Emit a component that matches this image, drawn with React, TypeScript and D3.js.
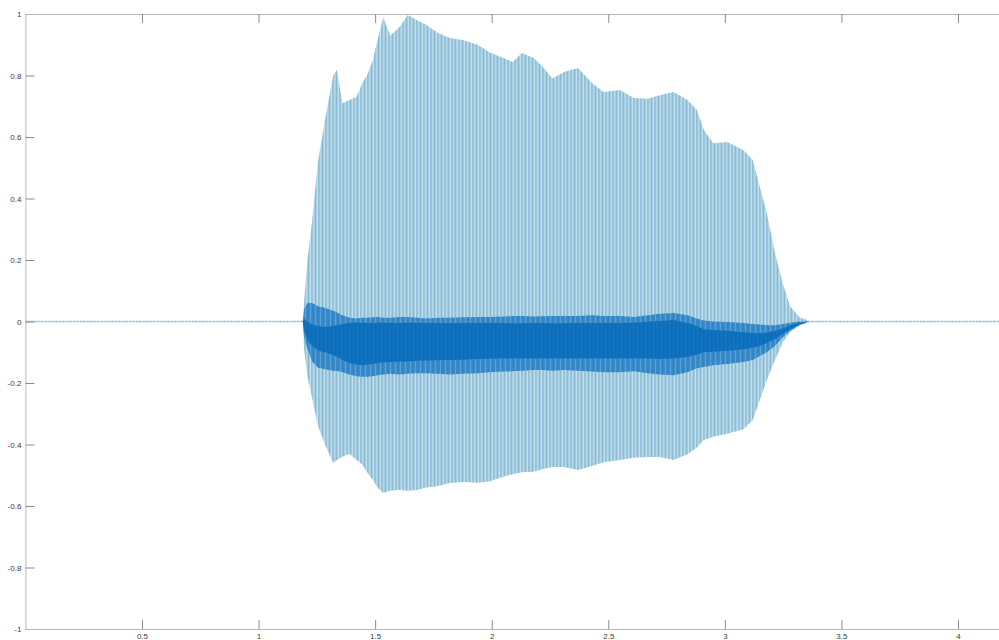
import { useEffect, useRef } from "react";
import * as d3 from "d3";

const WIDTH = 999;
const HEIGHT = 640;
const PLOT = { left: 25.4, top: 14, bottom: 629 };
const X_MAX = 4.2;

const TIMES = [
  0, 1.19, 1.195, 1.21, 1.23, 1.255, 1.285, 1.32, 1.336, 1.36, 1.39, 1.42,
  1.445, 1.465, 1.49, 1.51, 1.535, 1.565, 1.605, 1.64, 1.68, 1.72, 1.77, 1.82,
  1.88, 1.94, 1.99, 2.05, 2.09, 2.13, 2.18, 2.22, 2.26, 2.31, 2.37, 2.43, 2.48,
  2.55, 2.61, 2.67, 2.72, 2.78, 2.84, 2.88, 2.91, 2.95, 3.01, 3.08, 3.12, 3.15,
  3.18, 3.215, 3.25, 3.28, 3.32, 3.36, 4.2,
];

// outer peaks of the signal
const UPPER = [
  0.0025, 0.0025, 0.06, 0.2, 0.33, 0.52, 0.655, 0.8, 0.818, 0.71, 0.72, 0.73,
  0.776, 0.8, 0.85, 0.915, 0.99, 0.93, 0.958, 0.997, 0.98, 0.964, 0.938, 0.922,
  0.915, 0.9, 0.876, 0.857, 0.844, 0.873, 0.857, 0.828, 0.79, 0.811, 0.824,
  0.776, 0.746, 0.753, 0.727, 0.724, 0.736, 0.746, 0.72, 0.688, 0.623, 0.58,
  0.584, 0.557, 0.525, 0.437, 0.353, 0.223, 0.119, 0.05, 0.014, 0.0025, 0.0025,
];
const LOWER = [
  -0.0025, -0.0025, -0.09, -0.18, -0.25, -0.34, -0.4, -0.46, -0.45, -0.44,
  -0.43, -0.45, -0.465, -0.49, -0.515, -0.54, -0.558, -0.55, -0.548, -0.55,
  -0.548, -0.54, -0.535, -0.525, -0.522, -0.524, -0.52, -0.505, -0.497, -0.49,
  -0.489, -0.48, -0.473, -0.473, -0.483, -0.47, -0.458, -0.45, -0.443, -0.441,
  -0.441, -0.45, -0.432, -0.41, -0.385, -0.375, -0.365, -0.35, -0.32, -0.255,
  -0.19, -0.125, -0.065, -0.035, -0.012, -0.0025, -0.0025,
];

// dense band where most samples overlap
const MID_TOP = [
  0, 0, 0.04, 0.06, 0.06, 0.05, 0.045, 0.035, 0.03, 0.02, 0.012, 0.01, 0.012,
  0.012, 0.014, 0.015, 0.012, 0.012, 0.015, 0.015, 0.012, 0.01, 0.012, 0.012,
  0.014, 0.015, 0.015, 0.016, 0.018, 0.018, 0.016, 0.017, 0.018, 0.018, 0.018,
  0.02, 0.018, 0.018, 0.015, 0.02, 0.025, 0.028, 0.02, 0.01, 0.003, 0, -0.002,
  -0.005, -0.008, -0.01, -0.012, -0.012, -0.008, -0.004, 0, 0, 0,
];
const MID_BOTTOM = [
  0, 0, -0.05, -0.09, -0.13, -0.15, -0.155, -0.16, -0.16, -0.165, -0.172,
  -0.178, -0.18, -0.18, -0.178, -0.175, -0.172, -0.17, -0.172, -0.17, -0.168,
  -0.168, -0.17, -0.172, -0.17, -0.168, -0.165, -0.163, -0.162, -0.16, -0.158,
  -0.158, -0.16, -0.158, -0.16, -0.163, -0.165, -0.165, -0.162, -0.168, -0.172,
  -0.175, -0.165, -0.152, -0.148, -0.142, -0.138, -0.132, -0.125, -0.112, -0.1,
  -0.08, -0.05, -0.03, -0.012, 0, 0,
];
const CORE_TOP = [
  0, 0, 0.01, 0, -0.01, -0.015, -0.018, -0.015, -0.012, -0.008, -0.005, -0.003,
  -0.004, -0.005, -0.005, -0.004, -0.004, -0.005, -0.005, -0.004, -0.004,
  -0.005, -0.005, -0.006, -0.005, -0.005, -0.005, -0.005, -0.006, -0.006,
  -0.005, -0.005, -0.006, -0.006, -0.005, -0.005, -0.005, -0.005, -0.004, 0,
  0.002, 0.005, -0.005, -0.015, -0.025, -0.028, -0.03, -0.035, -0.037, -0.038,
  -0.036, -0.03, -0.022, -0.012, -0.004, 0, 0,
];
const CORE_BOTTOM = [
  0, 0, -0.03, -0.06, -0.08, -0.095, -0.1, -0.11, -0.115, -0.125, -0.135,
  -0.14, -0.142, -0.14, -0.138, -0.135, -0.133, -0.132, -0.13, -0.13, -0.128,
  -0.127, -0.126, -0.125, -0.124, -0.122, -0.121, -0.12, -0.12, -0.12, -0.12,
  -0.12, -0.12, -0.12, -0.12, -0.12, -0.12, -0.12, -0.12, -0.12, -0.122, -0.12,
  -0.115, -0.108, -0.1, -0.098, -0.095, -0.09, -0.085, -0.08, -0.07, -0.058,
  -0.04, -0.025, -0.01, 0, 0,
];

const X_TICKS = [0.5, 1, 1.5, 2, 2.5, 3, 3.5, 4];
const Y_TICKS = [-1, -0.8, -0.6, -0.4, -0.2, 0, 0.2, 0.4, 0.6, 0.8, 1];

const App = () => {
  const svgRef = useRef<SVGSVGElement | null>(null);

  useEffect(() => {
    const svg = d3.select(svgRef.current);
    svg.selectAll("*").remove();

    const x = d3.scaleLinear().domain([0, 4]).range([PLOT.left, 958]);
    const y = d3.scaleLinear().domain([-1, 1]).range([PLOT.bottom, PLOT.top]);
    const xEnd = x(X_MAX);
    const xAxisScale = x.copy().domain([0, X_MAX]).range([PLOT.left, xEnd]);

    const defs = svg.append("defs");
    defs
      .append("clipPath")
      .attr("id", "plot-clip")
      .append("rect")
      .attr("x", PLOT.left)
      .attr("y", PLOT.top)
      .attr("width", xEnd - PLOT.left)
      .attr("height", PLOT.bottom - PLOT.top);

    // vertical stripes to give the filled envelopes the look of many sample lines
    const stripes = (
      id: string,
      w: number,
      base: string,
      lines: [number, number, string][]
    ) => {
      const p = defs
        .append("pattern")
        .attr("id", id)
        .attr("patternUnits", "userSpaceOnUse")
        .attr("width", w)
        .attr("height", 10);
      p.append("rect").attr("width", w).attr("height", 10).attr("fill", base);
      lines.forEach(([lx, lw, c]) =>
        p
          .append("rect")
          .attr("x", lx)
          .attr("width", lw)
          .attr("height", 10)
          .attr("fill", c)
      );
    };
    stripes("light", 7, "#a6cde0", [
      [0, 1, "#86bbd7"],
      [2, 1, "#c6e1eb"],
      [3.5, 0.8, "#7fb4d4"],
      [5, 1, "#b8d8e6"],
    ]);
    stripes("mid", 5, "#3b8cca", [
      [0, 1, "#5a9fd3"],
      [2.5, 1, "#2b80c3"],
    ]);
    stripes("core", 4, "#0d6fbb", [[1, 1, "#1677c0"]]);

    const band = (top: number[], bottom: number[]) =>
      d3
        .area<number>()
        .x((i) => x(TIMES[i]))
        .y0((i) => y(bottom[i]))
        .y1((i) => y(top[i]))(TIMES.map((_, i) => i));

    const wave = svg.append("g").attr("clip-path", "url(#plot-clip)");
    // thin noise line along zero
    wave
      .append("line")
      .attr("x1", x(TIMES[0]))
      .attr("x2", xEnd)
      .attr("y1", y(0))
      .attr("y2", y(0))
      .attr("stroke", "#6fa7cd")
      .attr("stroke-width", 1);
    wave.append("path").attr("d", band(UPPER, LOWER)).attr("fill", "url(#light)");
    wave
      .append("path")
      .attr("d", band(MID_TOP, MID_BOTTOM))
      .attr("fill", "url(#mid)");
    wave
      .append("path")
      .attr("d", band(CORE_TOP, CORE_BOTTOM))
      .attr("fill", "url(#core)");

    const fmt = (d: d3.NumberValue) => String(+d);

    const styleAxis = (g: d3.Selection<SVGGElement, unknown, null, undefined>) => {
      g.attr("font-family", "'Liberation Sans', Arial, sans-serif").attr(
        "font-size",
        8
      );
      g.select(".domain").attr("stroke", "#b8b8b8");
      g.selectAll(".tick line").attr("stroke", "#8a8a8a");
      g.selectAll(".tick text").attr("fill", "#3c3c3c");
    };

    svg
      .append("g")
      .attr("transform", `translate(${PLOT.left},0)`)
      .call(
        d3
          .axisLeft(y)
          .tickValues(Y_TICKS)
          .tickSizeInner(-9)
          .tickSizeOuter(0)
          .tickPadding(4)
          .tickFormat(fmt)
      )
      .call(styleAxis);

    svg
      .append("g")
      .attr("transform", `translate(0,${PLOT.bottom})`)
      .call(
        d3
          .axisBottom(xAxisScale)
          .tickValues(X_TICKS)
          .tickSizeInner(-9)
          .tickSizeOuter(0)
          .tickPadding(4)
          .tickFormat(fmt)
      )
      .call(styleAxis);

    svg
      .append("g")
      .attr("transform", `translate(0,${PLOT.top})`)
      .call(
        d3
          .axisTop(xAxisScale)
          .tickValues(X_TICKS)
          .tickSizeInner(-9)
          .tickSizeOuter(0)
          .tickFormat(() => "")
      )
      .call(styleAxis);
  }, []);

  return (
    <svg
      ref={svgRef}
      width={WIDTH}
      height={HEIGHT}
      style={{ position: "absolute", left: 0, top: 0, background: "#fff" }}
    />
  );
};

export default App;
